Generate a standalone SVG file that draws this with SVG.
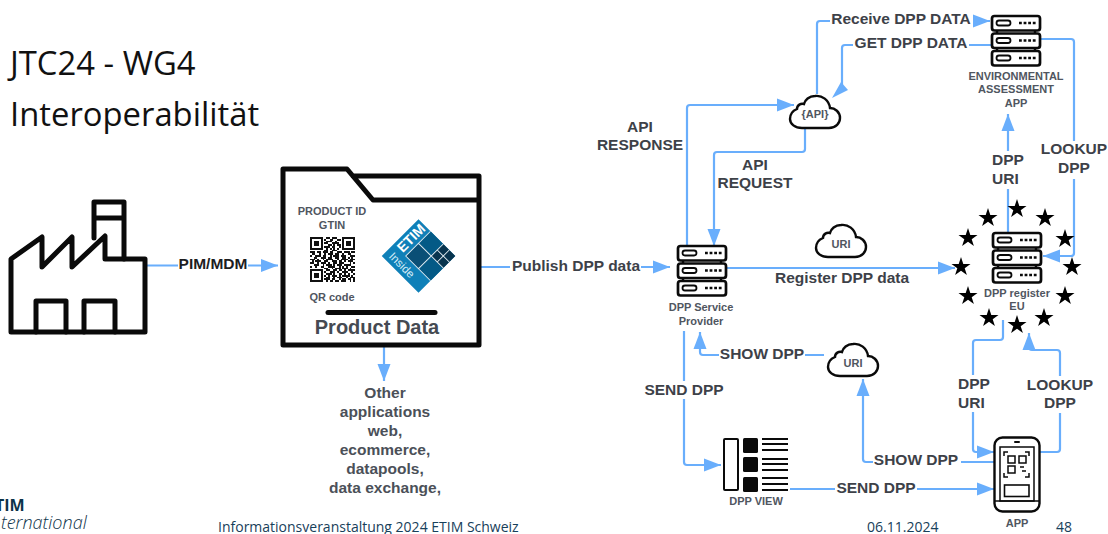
<svg xmlns="http://www.w3.org/2000/svg" width="1108" height="534" viewBox="0 0 1108 534">
<style>
text{font-family:"Liberation Sans",Arial,sans-serif;text-anchor:middle}
.c{fill:none;stroke:#69aefc;stroke-width:2.2;stroke-linejoin:round}
.a{marker-end:url(#ah)}
.bl{font-weight:700;font-size:15.5px;fill:#3d4148}
.sm{font-weight:700;font-size:11px;fill:#50565f}
.ic{fill:none;stroke:#0a0a0a;stroke-linejoin:round;stroke-linecap:round}
.hd{font-family:"Open Sans",sans-serif;font-size:32.8px;fill:#111;text-anchor:start}
.ft{font-family:"Open Sans",sans-serif;font-size:14px;fill:#17405a;text-anchor:start}
</style>
<defs>
<marker id="ah" markerUnits="userSpaceOnUse" markerWidth="18" markerHeight="14" refX="17" refY="7" orient="auto"><path d="M0 .5L17 7L0 13.500Z" fill="#69aefc"/></marker>
<polygon id="star" fill="#000" points="0,-10 2.3,-3.1 9.5,-3.1 3.7,1.2 5.9,8.1 0,3.8 -5.9,8.1 -3.7,1.2 -9.5,-3.1 -2.3,-3.1"/>
<g id="server">
<path d="M6 15V18M44 15V18M6 33V36M44 33V36" stroke="#0a0a0a" stroke-width="2.500" fill="none"/>
<rect x="1" y="1" width="48" height="14.500" rx="2.5" fill="#fff" stroke="#0a0a0a" stroke-width="2.700"/>
<rect x="1" y="18.500" width="48" height="14.500" rx="2.5" fill="#fff" stroke="#0a0a0a" stroke-width="2.700"/>
<rect x="1" y="36" width="48" height="14.500" rx="2.5" fill="#fff" stroke="#0a0a0a" stroke-width="2.700"/>
<g fill="none" stroke="#0a0a0a" stroke-width="1.800">
<rect x="5.500" y="5.500" width="14" height="5" rx="2.500"/><rect x="5.500" y="23" width="14" height="5" rx="2.500"/><rect x="5.500" y="40.500" width="14" height="5" rx="2.500"/>
<path d="M28 8H45M28 25.500H45M28 43H45" stroke-width="2.600" stroke-dasharray="2.800 1.800"/>
</g>
</g>
<path id="cloud" d="M13 34H40C47 34 51 29 51 24C51 18 46 14 41 14C40 6 33 1 26 2C20 2 16 6 15 10C12 9 8 11 8 15C3 17 1 21 1 25C1 30 6 34 13 34Z" fill="#fff" stroke="#0a0a0a" stroke-width="2.400"/>
</defs>
<rect width="1108" height="534" fill="#fff"/>

<g id="title">
<text class="hd" x="10" y="75">JTC24 - WG4</text>
<text class="hd" x="10" y="126">Interoperabilität</text>
</g>

<g id="connectors">
<path class="c a" d="M147 265.500H278"/>
<path class="c a" d="M481 267H670"/>
<path class="c a" d="M384 347V381"/>
<path class="c a" d="M727 268H955"/>
<path class="c a" d="M687 247V108Q687 105 690 105H794"/>
<path class="c a" d="M817 94V24Q817 21 820 21H990"/>
<path class="c" d="M992 45H845Q842 45 842 48V86"/>
<polygon points="832,98 841,82 848,90" fill="#69aefc"/>
<path class="c a" d="M805 129V149Q805 152 802 152H717Q714 152 714 155V246"/>
<path class="c a" d="M1041 39H1071Q1074 39 1074 42V253Q1074 256 1071 256H1043"/>
<path class="c a" d="M1008 232V114"/>
<path class="c a" d="M684 331V462Q684 465 687 465H721"/>
<path class="c a" d="M824 355H703Q700 355 700 352V332"/>
<path class="c a" d="M994 462H866Q863 462 863 459V379"/>
<path class="c a" d="M790 489H994"/>
<path class="c a" d="M1003 320V337Q1003 340 1000 340H976Q973 340 973 343V449Q973 452 976 452H994"/>
<path class="c a" d="M1039 452H1057Q1060 452 1060 449V353Q1060 350 1057 350H1032Q1029 350 1029 347V333"/>
</g>

<g id="connector-labels">
<g fill="#fff">
<rect x="178" y="256" width="70" height="18"/><rect x="510" y="258" width="131" height="18"/>
<rect x="830" y="12" width="143" height="18"/><rect x="853" y="36" width="116" height="18"/>
<rect x="1038" y="141" width="70" height="38"/><rect x="990" y="151" width="36" height="38"/>
<rect x="643" y="381" width="82" height="18"/><rect x="719" y="346" width="86" height="18"/>
<rect x="873" y="451" width="88" height="18"/><rect x="835" y="478" width="82" height="18"/>
<rect x="956" y="375" width="36" height="37"/><rect x="1026" y="376" width="70" height="37"/>
</g>
<text class="bl" x="213" y="269" style="fill:#1d1d1f">PIM/MDM</text>
<text class="bl" x="576" y="271">Publish DPP data</text>
<text class="bl" x="842" y="283">Register DPP data</text>
<text class="bl" x="901" y="24">Receive DPP DATA</text>
<text class="bl" x="911" y="48">GET DPP DATA</text>
<text class="bl" x="640" y="132">API</text><text class="bl" x="640" y="150">RESPONSE</text>
<text class="bl" x="755" y="170">API</text><text class="bl" x="755" y="188">REQUEST</text>
<text class="bl" x="1074" y="154">LOOKUP</text><text class="bl" x="1074" y="173">DPP</text>
<text class="bl" x="992" y="165" style="text-anchor:start">DPP</text><text class="bl" x="992" y="184" style="text-anchor:start">URI</text>
<text class="bl" x="684" y="395">SEND DPP</text>
<text class="bl" x="762" y="359">SHOW DPP</text>
<text class="bl" x="916" y="465">SHOW DPP</text>
<text class="bl" x="876" y="493">SEND DPP</text>
<text class="bl" x="958" y="389" style="text-anchor:start">DPP</text><text class="bl" x="958" y="408" style="text-anchor:start">URI</text>
<text class="bl" x="1060" y="390">LOOKUP</text><text class="bl" x="1060" y="408">DPP</text>
</g>

<g id="factory">
<path class="ic" stroke-width="5" d="M11 259L42 237V267L72 237V267L105 236V259H145V332H11Z"/>
<path class="ic" stroke-width="5" d="M94 238V202H124V259M94 218H124"/>
<path class="ic" stroke-width="5" d="M36 332V301H66V332M84 332V301H115V332"/>
</g>

<g id="product-data">
<path class="ic" stroke-width="5" d="M283 169H347L373 200H479V345H283ZM353 176H479V200" fill="#fff"/>
<text class="sm" x="332" y="215">PRODUCT ID</text>
<text class="sm" x="332" y="229">GTIN</text>
<svg x="310" y="237" width="45" height="45" viewBox="0 0 25 25" shape-rendering="crispEdges">
<path fill="none" stroke="#111" stroke-width="1" d="M0 .5h7M0 6.500h7M18 .5h7M18 6.500h7M0 18.500h7M0 24.500h7M0 1.500h1M6 1.500h1M0 2.500h1M2 2.500h3M6 2.500h1M0 3.500h1M2 3.500h3M6 3.500h1M0 4.500h1M2 4.500h3M6 4.500h1M0 5.500h1M6 5.500h1M18 1.500h1M24 1.500h1M18 2.500h1M20 2.500h3M24 2.500h1M18 3.500h1M20 3.500h3M24 3.500h1M18 4.500h1M20 4.500h3M24 4.500h1M18 5.500h1M24 5.500h1M0 19.500h1M6 19.500h1M0 20.500h1M2 20.500h3M6 20.500h1M0 21.500h1M2 21.500h3M6 21.500h1M0 22.500h1M2 22.500h3M6 22.500h1M0 23.500h1M6 23.500h1M9 .5h2M12 .5h3M8 1.500h1M11 1.500h2M15 1.500h2M9 2.500h3M14 2.500h1M8 3.500h2M12 3.500h4M10 4.500h2M13 4.500h1M15 4.500h2M8 5.500h3M12 5.500h2M16 5.500h1M9 6.500h1M11 6.500h1M13 6.500h1M15 6.500h1M8 7.500h2M12 7.500h3M0 8.500h3M4 8.500h2M7 8.500h3M11 8.500h2M15 8.500h3M19 8.500h3M23 8.500h2M1 9.500h2M5 9.500h1M8 9.500h1M10 9.500h3M14 9.500h2M18 9.500h1M21 9.500h2M0 10.500h1M3 10.500h3M7 10.500h2M11 10.500h1M13 10.500h3M17 10.500h3M22 10.500h3M2 11.500h2M6 11.500h3M10 11.500h2M14 11.500h2M18 11.500h2M21 11.500h1M23 11.500h1M0 12.500h3M4 12.500h1M7 12.500h1M9 12.500h4M15 12.500h1M17 12.500h4M22 12.500h3M1 13.500h1M3 13.500h3M8 13.500h2M12 13.500h3M16 13.500h2M19 13.500h1M21 13.500h3M0 14.500h2M4 14.500h1M6 14.500h3M10 14.500h1M13 14.500h2M16 14.500h3M22 14.500h1M24 14.500h1M2 15.500h3M7 15.500h1M9 15.500h3M13 15.500h1M15 15.500h3M19 15.500h4M0 16.500h1M3 16.500h1M6 16.500h2M10 16.500h4M16 16.500h1M18 16.500h1M20 16.500h1M23 16.500h2M8 17.500h2M12 17.500h1M14 17.500h3M18 17.500h3M22 17.500h1M9 18.500h2M13 18.500h2M16 18.500h2M19 18.500h1M21 18.500h4M8 19.500h1M11 19.500h3M15 19.500h1M18 19.500h3M23 19.500h1M9 20.500h3M13 20.500h1M16 20.500h2M19 20.500h1M21 20.500h1M24 20.500h1M8 21.500h1M10 21.500h1M12 21.500h3M16 21.500h1M18 21.500h4M23 21.500h1M9 22.500h2M13 22.500h1M15 22.500h3M20 22.500h1M22 22.500h3M8 23.500h3M12 23.500h2M16 23.500h1M18 23.500h2M21 23.500h2M24 23.500h1M9 24.500h1M11 24.500h2M14 24.500h2M17 24.500h3M22 24.500h1M24 24.500h1"/>
</svg>
<text class="sm" x="332" y="301">QR code</text>
<g transform="translate(418.500 256) rotate(45)">
<rect x="-26" y="-26" width="52" height="52" fill="#0f80b8"/>
<rect x="-9" y="-26" width="18" height="17" fill="#045a86"/>
<rect x="-9" y="-9" width="18" height="18" fill="#0a4f76"/>
<rect x="9" y="-9" width="17" height="18" fill="#045a86"/>
<rect x="9" y="-26" width="17" height="17" fill="#08344e"/>
<path d="M-9 -26V9H26M-9 -9H26M9 -26V9M17.500 -26V-9M9 -17.500H26" fill="none" stroke="#dfeaf0" stroke-width="1"/>
</g>
<text transform="translate(411 238) rotate(-45)" x="0" y="5" style="font-weight:700;font-size:14px;fill:#fff">ETIM</text>
<text transform="translate(402 265) rotate(45)" x="0" y="4" style="font-size:11.500px;fill:#d6ecf6">Inside</text>
<path d="M328 312.500H435" stroke="#0a0a0a" stroke-width="5" stroke-linecap="round"/>
<text x="377" y="334" style="font-weight:700;font-size:20px;fill:#454a52">Product Data</text>
</g>

<g id="other-applications">
<text class="bl" x="385" y="398" style="fill:#4b5058">Other</text>
<text class="bl" x="385" y="417" style="fill:#4b5058">applications</text>
<text class="bl" x="385" y="436" style="fill:#4b5058">web,</text>
<text class="bl" x="385" y="455" style="fill:#4b5058">ecommerce,</text>
<text class="bl" x="385" y="474" style="fill:#4b5058">datapools,</text>
<text class="bl" x="385" y="493" style="fill:#4b5058">data exchange,</text>
</g>

<g id="dpp-service-provider">
<use href="#server" x="677" y="245"/>
<text class="sm" x="701" y="311">DPP Service</text>
<text class="sm" x="701" y="325">Provider</text>
</g>

<g id="api-cloud">
<use href="#cloud" x="789" y="94"/>
<text class="sm" x="815" y="118">{API}</text>
</g>
<g id="uri-cloud-top">
<use href="#cloud" x="815" y="223"/>
<text class="sm" x="841" y="248">URI</text>
</g>
<g id="uri-cloud-bottom">
<use href="#cloud" x="827" y="342"/>
<text class="sm" x="853" y="367">URI</text>
</g>

<g id="environmental-app">
<use href="#server" x="991" y="15"/>
<text class="sm" x="1016" y="80">ENVIRONMENTAL</text>
<text class="sm" x="1016" y="93">ASSESSMENT</text>
<text class="sm" x="1016" y="107">APP</text>
</g>

<g id="dpp-register">
<use href="#server" x="992" y="232"/>
<use href="#star" x="1017" y="209"/><use href="#star" x="988" y="218"/><use href="#star" x="1045" y="218"/>
<use href="#star" x="968" y="238"/><use href="#star" x="1065" y="239"/><use href="#star" x="961" y="267"/>
<use href="#star" x="1072" y="267"/><use href="#star" x="968" y="296"/><use href="#star" x="1065" y="296"/>
<use href="#star" x="989" y="318"/><use href="#star" x="1044" y="318"/><use href="#star" x="1017" y="325"/>
<text class="sm" x="1017" y="297">DPP register</text>
<text class="sm" x="1017" y="310">EU</text>
</g>

<g id="dpp-view">
<rect x="724" y="439" width="14" height="51" rx="1" fill="#fff" stroke="#0a0a0a" stroke-width="2"/>
<rect x="743" y="438" width="15" height="15" rx="1.500" fill="#0a0a0a"/>
<rect x="743" y="457" width="15" height="15" rx="1.500" fill="#0a0a0a"/>
<rect x="743" y="477" width="15" height="15" rx="1.500" fill="#0a0a0a"/>
<path d="M762 439H788M762 444H788M762 450H788M762 459H788M762 464H788M762 470H788M762 478H788M762 484H788M762 490H788" stroke="#0a0a0a" stroke-width="1.800"/>
<text class="sm" x="756" y="505">DPP VIEW</text>
</g>

<g id="app">
<rect x="994.500" y="437.500" width="45" height="74" rx="8" fill="#fff" stroke="#0a0a0a" stroke-width="2.400"/>
<rect x="1000" y="447" width="34" height="54" fill="none" stroke="#0a0a0a" stroke-width="1.500"/>
<path d="M994 501H1039" stroke="#0a0a0a" stroke-width="1.500"/>
<path d="M1015 442H1019" stroke="#0a0a0a" stroke-width="2" stroke-linecap="round"/>
<rect x="1004.500" y="485" width="24.500" height="11.500" fill="none" stroke="#0a0a0a" stroke-width="1.600"/>
<g fill="none" stroke="#0a0a0a" stroke-width="1.500">
<path d="M1004 456V452H1008M1025 452H1029V456M1004 473V477H1008M1029 473V477H1025"/>
<rect x="1008" y="456" width="7" height="7"/><rect x="1019" y="456" width="7" height="7"/><rect x="1008" y="466" width="7" height="7"/>
<path d="M1020 467H1024M1022 471H1026"/>
</g>
<text class="sm" x="1017" y="527">APP</text>
</g>

<g id="footer">
<text x="-5" y="511" style="font-family:'Open Sans',sans-serif;font-weight:700;font-size:16px;fill:#0d3349;text-anchor:start">TIM</text>
<text x="1" y="529" style="font-family:'Open Sans',sans-serif;font-style:italic;font-weight:300;font-size:18px;fill:#0d3349;text-anchor:start">ternational</text>
<text class="ft" x="218" y="532">Informationsveranstaltung 2024 ETIM Schweiz</text>
<text class="ft" x="867" y="532">06.11.2024</text>
<text class="ft" x="1056" y="532">48</text>
</g>
</svg>
